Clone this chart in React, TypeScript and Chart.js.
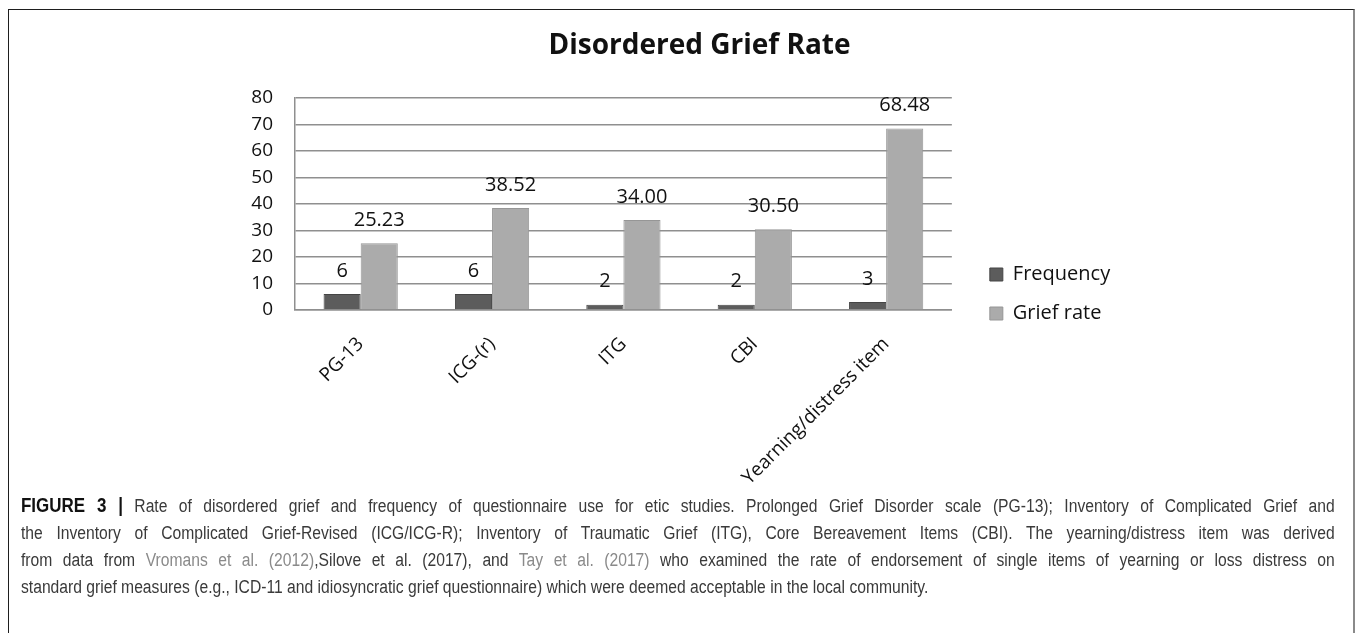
import React, { useEffect, useRef } from "react";
import { Chart, registerables } from "chart.js";

Chart.register(...registerables);

const categories = ["PG-13", "ICG-(r)", "ITG", "CBI", "Yearning/distress item"];
const frequency = [6, 6, 2, 2, 3];
const griefRate = [25.23, 38.52, 34.0, 30.5, 68.48];
const frequencyLabels = ["6", "6", "2", "2", "3"];
const griefRateLabels = ["25.23", "38.52", "34.00", "30.50", "68.48"];
const yTicks = [0, 10, 20, 30, 40, 50, 60, 70, 80];
const chartTitle = "Disordered Grief Rate";

const FONT = '"Open Sans", "DejaVu Sans", sans-serif';

export default function App() {
  const ref = useRef<HTMLCanvasElement>(null);

  useEffect(() => {
    const canvas = ref.current;
    if (!canvas) return;

    const valueLabels = {
      id: "valueLabels",
      afterDatasetsDraw(chart: any) {
        const c = chart.ctx;
        c.save();
        c.font = `20px ${FONT}`;
        c.fillStyle = "#111";
        c.textAlign = "center";
        c.textBaseline = "bottom";
        chart.data.datasets.forEach((_ds: any, di: number) => {
          const meta = chart.getDatasetMeta(di);
          const labels = di === 0 ? frequencyLabels : griefRateLabels;
          meta.data.forEach((el: any, i: number) => {
            c.fillText(labels[i], el.x, el.y - 13);
          });
        });
        c.restore();
      },
    };

    const chart = new Chart(canvas, {
      type: "bar",
      data: {
        labels: categories,
        datasets: [
          {
            label: "Frequency",
            data: frequency,
            backgroundColor: "#5c5c5c",
            borderColor: "#454545",
            borderWidth: 1,
            categoryPercentage: 0.565,
            barPercentage: 1,
          },
          {
            label: "Grief rate",
            data: griefRate,
            backgroundColor: "#ababab",
            borderColor: "#969696",
            borderWidth: 1,
            categoryPercentage: 0.565,
            barPercentage: 1,
          },
        ],
      },
      options: {
        responsive: false,
        animation: false,
        layout: { padding: { left: 245, right: 241, top: 98, bottom: 5 } },
        plugins: {
          title: { display: false },
          legend: {
            position: "right",
            labels: {
              boxWidth: 13,
              boxHeight: 13,
              padding: 19,
              font: { size: 20, family: FONT },
              color: "#111",
            },
          },
          tooltip: { enabled: false },
        },
        scales: {
          x: {
            grid: { display: false },
            border: { display: true, color: "#8f8f8f", width: 1.5 },
            ticks: {
              minRotation: 45,
              maxRotation: 45,
              padding: 15,
              font: { size: 19, family: FONT },
              color: "#111",
            },
            afterFit: (s: any) => {
              s.height = 180;
            },
          },
          y: {
            min: 0,
            max: 80,
            afterBuildTicks: (s: any) => {
              s.ticks = yTicks.map((v) => ({ value: v }));
            },
            ticks: { padding: 22, font: { size: 19, family: FONT }, color: "#111" },
            grid: { color: "#8f8f8f", lineWidth: 1.5, drawTicks: false },
            border: { display: true, color: "#8f8f8f", width: 1.5 },
            afterFit: (s: any) => {
              s.width = 50;
            },
          },
          y2: {
            position: "right",
            display: true,
            grid: { display: false },
            border: { display: false },
            ticks: { display: false },
            afterFit: (s: any) => {
              s.width = 19;
            },
          },
        },
      },
      plugins: [valueLabels],
    } as any);

    return () => chart.destroy();
  }, []);

  const link = { color: "#8a8a8a" };
  const justified: React.CSSProperties = {
    textAlign: "justify",
    textAlignLast: "justify" as any,
    width: 1510,
  };

  return (
    <div>
      <div
        style={{
          position: "fixed",
          left: 8,
          top: 9,
          width: 1347,
          height: 700,
          border: "1px solid #1e1e1e",
          borderRight: "2px solid #8a8a8a",
          boxSizing: "border-box",
          background: "#fff",
        }}
      />
      <div
        style={{
          position: "fixed",
          left: 0,
          top: 26,
          width: 1399,
          textAlign: "center",
          fontFamily: FONT,
          fontWeight: "bold",
          fontSize: 28,
          lineHeight: "34px",
          color: "#111",
        }}
      >
        {chartTitle}
      </div>
      <canvas
        ref={ref}
        width={1357}
        height={495}
        style={{ position: "fixed", left: 0, top: 0, width: 1357, height: 495 }}
      />
      <div
        style={{
          position: "fixed",
          left: 21,
          top: 492,
          width: 1510,
          transform: "scaleX(0.87)",
          transformOrigin: "left top",
          fontFamily: '"Liberation Sans", Arial, sans-serif',
          fontSize: 18,
          lineHeight: "27px",
          color: "#3a3a3a",
          whiteSpace: "nowrap",
        }}
      >
        <div style={justified}>
          <b style={{ color: "#111", fontSize: 19.5 }}>FIGURE 3 |</b> Rate of disordered grief and frequency of questionnaire use for etic studies. Prolonged Grief Disorder scale (PG-13); Inventory of Complicated Grief and
        </div>
        <div style={justified}>
          the Inventory of Complicated Grief-Revised (ICG/ICG-R); Inventory of Traumatic Grief (ITG), Core Bereavement Items (CBI). The yearning/distress item was derived
        </div>
        <div style={justified}>
          from data from <span style={link}>Vromans et al. (2012)</span>,Silove et al. (2017), and <span style={link}>Tay et al. (2017)</span> who examined the rate of endorsement of single items of yearning or loss distress on
        </div>
        <div>
          standard grief measures (e.g., ICD-11 and idiosyncratic grief questionnaire) which were deemed acceptable in the local community.
        </div>
      </div>
    </div>
  );
}
